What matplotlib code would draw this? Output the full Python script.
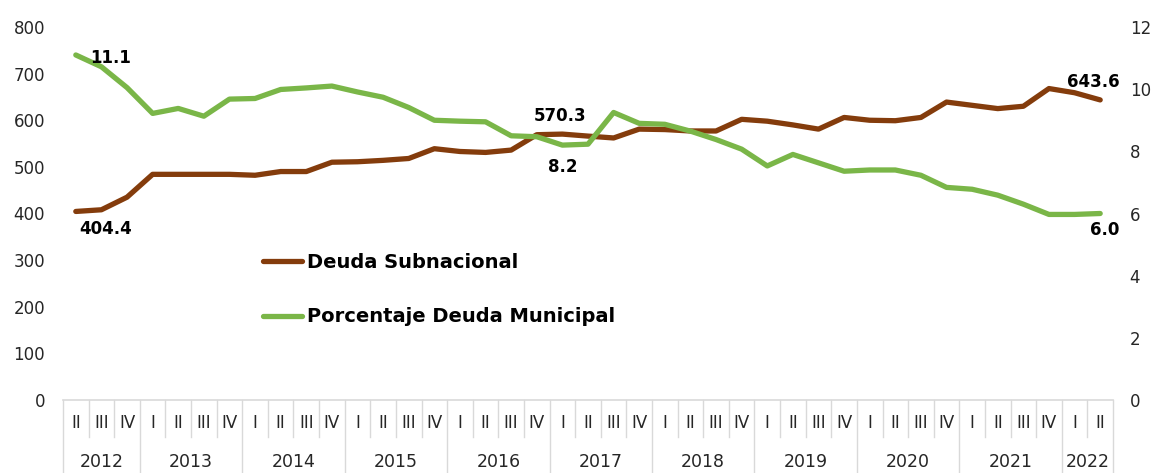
import matplotlib
matplotlib.use("Agg")
import matplotlib.pyplot as plt
from matplotlib.lines import Line2D

# ---- data ----
years = ["2012", "2013", "2014", "2015", "2016", "2017", "2018", "2019", "2020", "2021", "2022"]
year_quarters = [["II", "III", "IV"]] + [["I", "II", "III", "IV"]] * 9 + [["I", "II"]]

deuda_subnacional = [404.4, 408, 435, 484, 484, 484, 484, 482, 490, 490, 510,
                     511, 514, 518, 539, 533, 531, 536, 569, 570.3, 566,
                     562, 581, 580, 577, 577, 602, 598, 590, 581, 606,
                     600, 599, 606, 639, 632, 625, 630, 668, 659, 643.6]

porcentaje_municipal = [11.1, 10.72, 10.05, 9.22, 9.38, 9.13, 9.68, 9.70, 9.99, 10.04, 10.10,
                        9.91, 9.74, 9.41, 9.00, 8.97, 8.95, 8.50, 8.47, 8.2, 8.23,
                        9.25, 8.90, 8.87, 8.65, 8.38, 8.07, 7.53, 7.90, 7.63, 7.36,
                        7.40, 7.40, 7.23, 6.84, 6.78, 6.59, 6.30, 5.97, 5.97, 6.0]

left_ticks = [0, 100, 200, 300, 400, 500, 600, 700, 800]
right_ticks = [0, 2, 4, 6, 8, 10, 12]

brown = "#843C0C"
green = "#7AB648"
grid_gray = "#D9D9D9"

W, H = 1156, 473
fig = plt.figure(figsize=(W / 100, H / 100), dpi=100)
x0, x1, ytop, ybot = 63, 1113, 27, 400
ax = fig.add_axes([x0 / W, (H - ybot) / H, (x1 - x0) / W, (ybot - ytop) / H])
ax2 = ax.twinx()

n = len(deuda_subnacional)
xs = [i + 0.5 for i in range(n)]

lw = 3.8
ax.plot(xs, deuda_subnacional, color=brown, lw=lw, solid_capstyle="round", solid_joinstyle="round")
ax2.plot(xs, porcentaje_municipal, color=green, lw=lw, solid_capstyle="round", solid_joinstyle="round")

ax.set_xlim(0, n)
ax.set_ylim(0, 800)
ax2.set_ylim(0, 12)
ax.set_yticks(left_ticks)
ax2.set_yticks(right_ticks)
tick_font = dict(family="DejaVu Sans", size=12)
ax.set_yticklabels([str(t) for t in left_ticks], **tick_font, color="#262626")
ax2.set_yticklabels([str(t) for t in right_ticks], **tick_font, color="#262626")
ax.tick_params(axis="y", length=0, pad=13)
ax2.tick_params(axis="y", length=0, pad=12)
ax.set_xticks([])
for a in (ax, ax2):
    for s in ("top", "left", "right"):
        a.spines[s].set_visible(False)
ax2.spines["bottom"].set_visible(False)
ax.spines["bottom"].set_color(grid_gray)
ax.spines["bottom"].set_linewidth(1.2)

# ---- two-level category axis ----
axh = ybot - ytop
tr = ax.get_xaxis_transform()
q_sep = -37 / axh
y_sep = -(H - ybot) / axh
q_lab = -23 / axh
y_lab = -62 / axh
pos = 0
for yr, qs in zip(years, year_quarters):
    ax.plot([pos, pos], [0, y_sep], transform=tr, color=grid_gray, lw=1.0, clip_on=False)
    for k, q in enumerate(qs):
        if k > 0:
            ax.plot([pos + k, pos + k], [0, q_sep], transform=tr, color=grid_gray, lw=1.0, clip_on=False)
        ax.text(pos + k + 0.5, q_lab, q, transform=tr, ha="center", va="center",
                fontsize=12, family="DejaVu Sans", color="#262626")
    ax.text(pos + len(qs) / 2, y_lab, yr, transform=tr, ha="center", va="center",
            fontsize=12.5, family="DejaVu Sans", color="#262626")
    pos += len(qs)
ax.plot([pos, pos], [0, y_sep], transform=tr, color=grid_gray, lw=1.0, clip_on=False)

# ---- data labels ----
lab = dict(fontsize=12, fontweight="bold", family="DejaVu Sans", color="black",
           ha="center", va="center", textcoords="offset points")
ax2.annotate(f"{porcentaje_municipal[0]:.1f}", (xs[0], porcentaje_municipal[0]), xytext=(25, -2), **lab)
ax.annotate(f"{deuda_subnacional[0]:.1f}", (xs[0], deuda_subnacional[0]), xytext=(21.5, -12.5), **lab)
ax.annotate(f"{deuda_subnacional[19]:.1f}", (xs[19], deuda_subnacional[19]), xytext=(-1.5, 13), **lab)
ax2.annotate(f"{porcentaje_municipal[19]:.1f}", (xs[19], porcentaje_municipal[19]), xytext=(0, -16), **lab)
ax.annotate(f"{deuda_subnacional[-1]:.1f}", (xs[-1], deuda_subnacional[-1]), xytext=(-5, 13), **lab)
ax2.annotate(f"{porcentaje_municipal[-1]:.1f}", (xs[-1], porcentaje_municipal[-1]), xytext=(3.5, -12), **lab)

# ---- legend ----
handles = [Line2D([], [], color=brown, lw=lw, solid_capstyle="round"),
           Line2D([], [], color=green, lw=lw, solid_capstyle="round")]
fig.legend(handles, ["Deuda Subnacional", "Porcentaje Deuda Municipal"],
           loc="upper left", bbox_to_anchor=(263 / W, (H - 253) / H),
           frameon=False, borderpad=0, borderaxespad=0, handlelength=2.0,
           handletextpad=0.25, labelspacing=1.82,
           prop=dict(family="DejaVu Sans", weight="bold", size=14))

fig.savefig("out.png", dpi=100)
